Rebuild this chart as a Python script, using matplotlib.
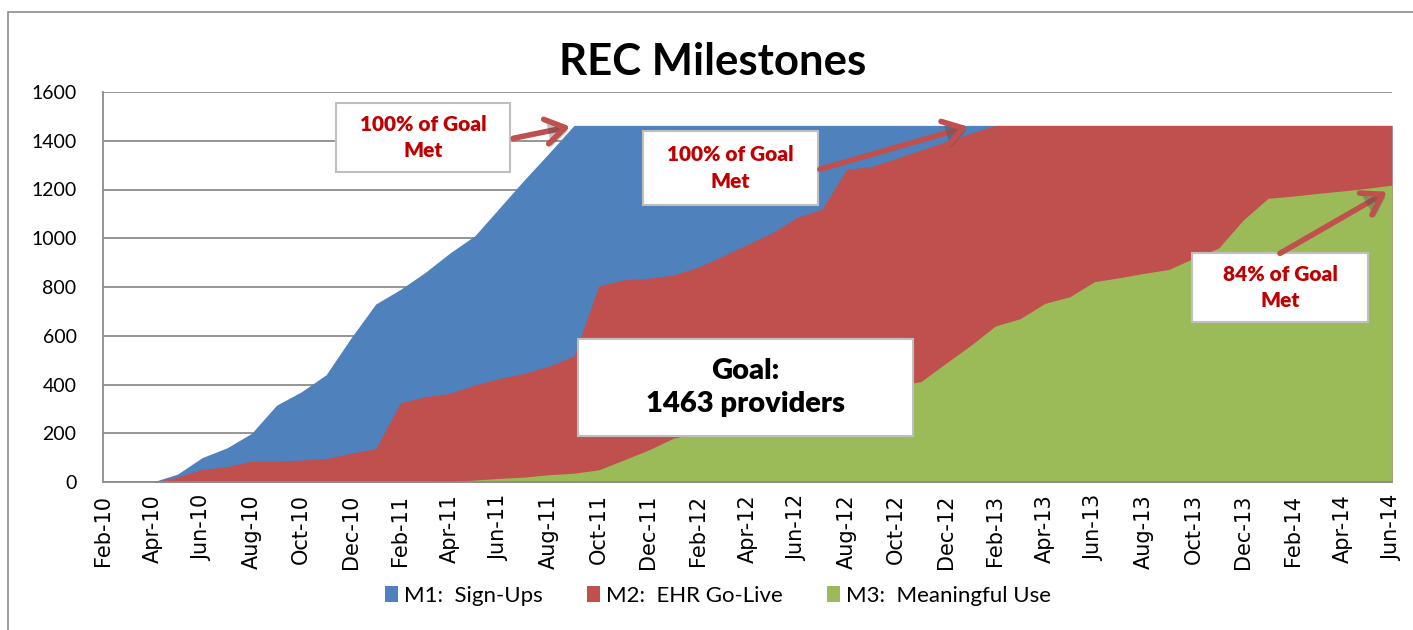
import numpy as np
import pandas as pd
import matplotlib
matplotlib.use('Agg')
import matplotlib.pyplot as plt
from matplotlib.patches import Rectangle
import matplotlib.patheffects as pe

### data (monthly, Feb-10 .. Jun-14)
months = pd.date_range('2010-02-01', periods=53, freq='MS').strftime('%b-%y').tolist()

m1_signups = [0, 0, 0, 32, 100, 140, 200, 315, 370, 440, 590, 730, 790, 860, 940, 1010,
              1125, 1240, 1350, 1463] + [1463] * 33
m2_golive = [0, 0, 0, 20, 52, 63, 86, 86, 90, 96, 118, 137, 325, 350, 364, 398, 425, 446,
             476, 517, 805, 829, 836, 849, 881, 927, 975, 1023, 1086, 1119, 1283, 1294,
             1328, 1362, 1396, 1431, 1463] + [1463] * 16
m3_meaningful = [0] * 14 + [2, 8, 15, 20, 30, 36, 50, 90, 131, 179, 205, 235, 265, 295, 320,
                            345, 365, 380, 395, 412, 487, 560, 640, 670, 733, 760, 822, 838,
                            856, 872, 918, 959, 1075, 1164, 1173, 1184, 1194, 1205, 1218]

series_names = ['M1:  Sign-Ups', 'M2:  EHR Go-Live', 'M3:  Meaningful Use']
series_colors = ['#4F81BD', '#C0504D', '#9BBB59']

### figure
fig = plt.figure(figsize=(14.13, 6.30), dpi=100)
ax = fig.add_axes([103 / 1413, 148 / 630, 1289 / 1413, 390 / 630])

x = np.arange(len(months))
for vals, name, col in zip([m1_signups, m2_golive, m3_meaningful], series_names, series_colors):
    ax.fill_between(x, 0, vals, color=col, lw=0, label=name, zorder=2)

ax.set_xlim(0, len(months) - 1)
ax.set_ylim(0, 1600)
ax.set_yticks(range(0, 1601, 200))
ax.set_xticks(x[::2])
ax.set_xticklabels(months[::2], rotation=90, fontsize=15, family='DejaVu Sans', va='top', ha='center')
ax.tick_params(axis='x', length=0, pad=9)
ax.tick_params(axis='y', length=0, pad=19, labelsize=14)
for lab in ax.get_yticklabels():
    lab.set_family('Lato')
ax.grid(axis='y', color='#8C8C8C', lw=1.3, zorder=1)
ax.set_axisbelow(True)
for s in ['top', 'right']:
    ax.spines[s].set_visible(False)
for s in ['left', 'bottom']:
    ax.spines[s].set_color('#8C8C8C')
    ax.spines[s].set_linewidth(1.3)
    ax.spines[s].set_zorder(3)

# title
fig.text(713 / 1413, 1 - 62 / 630, 'REC Milestones', ha='center', va='center',
         fontsize=31.5, fontweight='bold', family='Lato')

# outer chart frame
fig.patches.append(Rectangle((8 / 1413, -0.1), 1.2, 1.1 - 12 / 630, transform=fig.transFigure,
                             fill=False, edgecolor='#8C8C8C', lw=1.2))

# legend
fig.legend(loc='center', bbox_to_anchor=(0.508, 34 / 630), ncol=3, frameon=False,
           prop={'family': 'Lato', 'size': 16}, handlelength=0.6, handleheight=0.75,
           handletextpad=0.25, columnspacing=2.0)

# annotation boxes (axes fraction)
def box(x0, x1, y0, y1, text, color, size, spacing):
    ax.add_patch(Rectangle((x0, y0), x1 - x0, y1 - y0, transform=ax.transAxes,
                           facecolor='white', edgecolor='#BFBFBF', lw=1.5, zorder=5))
    ax.text((x0 + x1) / 2, (y0 + y1) / 2, text, transform=ax.transAxes, ha='center',
            va='center', color=color, fontsize=size, fontweight='heavy', family='Lato',
            linespacing=spacing, zorder=6)

box(0.1808, 0.3157, 0.7949, 0.9718, '100% of Goal\nMet', '#C00000', 15, 1.45)
box(0.4189, 0.5547, 0.7103, 0.9000, '100% of Goal\nMet', '#C00000', 15, 1.45)
box(0.8448, 0.9814, 0.4103, 0.5872, '84% of Goal\nMet', '#C00000', 15, 1.45)
box(0.3685, 0.6284, 0.1179, 0.3667, 'Goal:\n1463 providers', 'black', 21, 1.35)

# arrows (data coords: month index, providers)
arrows = [((16.55, 1410), (18.85, 1458)),
          ((28.92, 1283), (34.9, 1458)),
          ((47.48, 938), (51.8, 1191))]
for (tx, ty), (hx, hy) in arrows:
    ax.annotate('', xy=(hx, hy), xytext=(tx, ty),
                arrowprops=dict(arrowstyle='->, head_length=0.7, head_width=0.45',
                                color='#C0504D', lw=4, mutation_scale=20, shrinkA=0, shrinkB=0,
                                path_effects=[pe.SimplePatchShadow(offset=(2, -2), alpha=0.35),
                                              pe.Normal()]),
                zorder=7)

fig.savefig('out.png', dpi=100)
